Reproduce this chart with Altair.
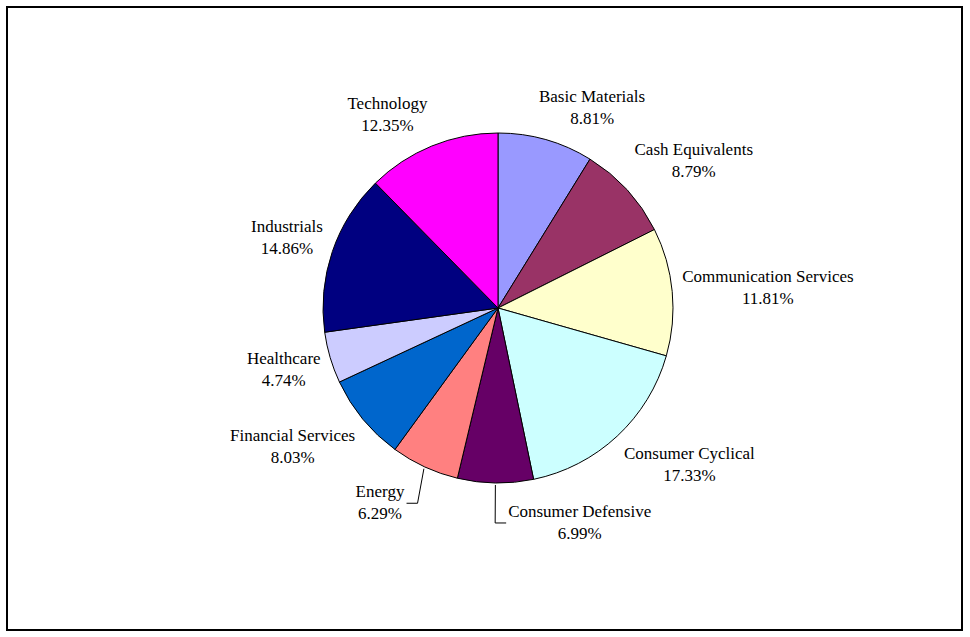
import math
import altair as alt
import pandas as pd

# ---- data ----
sectors = ["Basic Materials", "Cash Equivalents", "Communication Services",
           "Consumer Cyclical", "Consumer Defensive", "Energy",
           "Financial Services", "Healthcare", "Industrials", "Technology"]
weights = [8.81, 8.79, 11.81, 17.33, 6.99, 6.29, 8.03, 4.74, 14.86, 12.35]
colors = ["#9999FF", "#993366", "#FFFFCC", "#CCFFFF", "#660066",
          "#FF8080", "#0066CC", "#CCCCFF", "#000080", "#FF00FF"]
# labels that were pulled out with a leader line (direction of the elbow)
leader_sides = {"Consumer Defensive": 1, "Energy": -1}

# ---- layout ----
CX, CY, R = 491, 301, 175
FONT = 17
LH = 22

# approximate serif glyph widths (em) for sizing the label boxes
_W = {" ": .25, ".": .25, "%": .833, "A": .722, "B": .667, "C": .667, "D": .722,
      "E": .611, "F": .556, "H": .722, "I": .333, "M": .889, "S": .556, "T": .611,
      "a": .444, "c": .444, "d": .5, "e": .444, "f": .333, "g": .5, "h": .5,
      "i": .278, "l": .278, "m": .778, "n": .5, "o": .5, "q": .5, "r": .333,
      "s": .389, "t": .278, "u": .5, "v": .5, "y": .5}


def text_w(t):
    return sum(_W.get(ch, .5) for ch in t) * FONT


slices = pd.DataFrame({
    "sector": sectors,
    "weight": weights,
    "color": colors,
    "order": list(range(len(sectors))),
})

total = sum(weights)
labels, segs = [], []
cum = 0.0
for s, w in zip(sectors, weights):
    mid = (cum + w / 2) / total * 2 * math.pi
    cum += w
    sn, cs = math.sin(mid), math.cos(mid)
    pct = f"{w:.2f}%"
    bw = max(text_w(s), text_w(pct))
    bh = 2 * LH
    if s in leader_sides:
        side = leader_sides[s]
        x0, y0 = CX + (R + 2) * sn, CY - (R + 2) * cs
        x1 = x0 + 0.4 * 38 * sn
        y1 = CY - (R + 40) * cs
        x2 = x1 + side * 11
        segs.append({"x": x0, "y": y0, "x2": x1, "y2": y1})
        segs.append({"x": x1, "y": y1, "x2": x2, "y2": y1})
        lx = x2 + side * (2 + bw / 2)
        ly = y1
    else:
        ax, ay = CX + (R + 10) * sn, CY - (R + 10) * cs
        fx = max(-1.0, min(1.0, 3 * sn))
        fy = max(-1.0, min(1.0, -1.5 * cs))
        lx = ax + fx * bw / 2
        ly = ay + fy * bh / 2
    # Vega centres the first line on y for multi-line text: shift to centre the block
    labels.append({"text": f"{s}\n{pct}", "lx": lx, "ly": ly - LH / 2})

label_df = pd.DataFrame(labels)
seg_df = pd.DataFrame(segs)

arcs = alt.Chart(slices).mark_arc(
    outerRadius=R, stroke="black", strokeWidth=1
).encode(
    theta=alt.Theta("weight:Q", stack=True),
    order=alt.Order("order:Q"),
    color=alt.Color("color:N", scale=None, legend=None),
    x=alt.value(CX),
    y=alt.value(CY),
)

leaders = alt.Chart(seg_df).mark_rule(color="black", strokeWidth=1).encode(
    x=alt.X("x:Q", scale=None),
    y=alt.Y("y:Q", scale=None),
    x2="x2:Q",
    y2="y2:Q",
)

texts = alt.Chart(label_df).mark_text(
    font="Liberation Serif", fontSize=FONT, lineBreak="\n", lineHeight=LH,
    align="center", baseline="middle", color="black",
).encode(
    x=alt.X("lx:Q", scale=None),
    y=alt.Y("ly:Q", scale=None),
    text="text:N",
)

chart = alt.layer(arcs, leaders, texts).properties(
    width=955, height=623,
    padding={"left": 7, "top": 7, "right": 8, "bottom": 7},
    autosize=alt.AutoSizeParams(type="none"),
    background="white",
).configure_view(stroke="black", strokeWidth=2)

chart.save("out.html", embed_options={"renderer": "svg", "actions": False})
